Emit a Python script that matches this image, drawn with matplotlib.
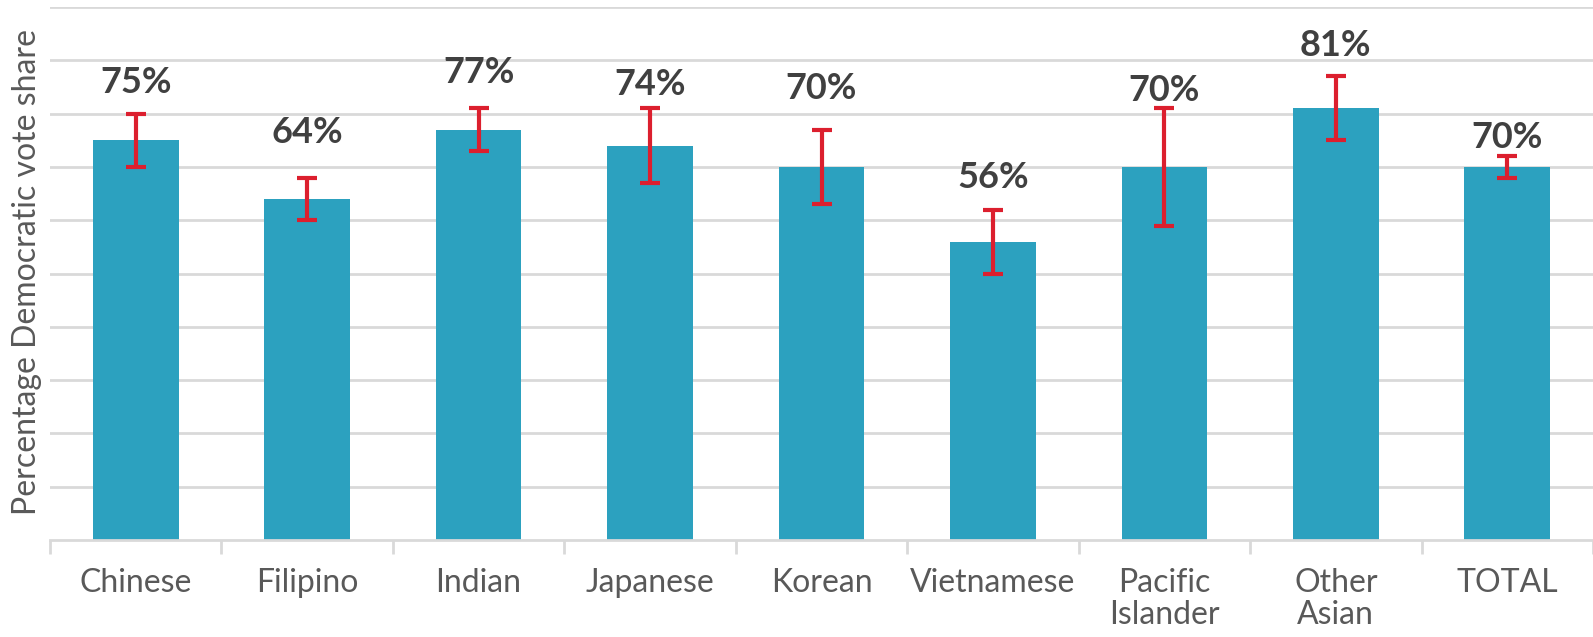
import matplotlib

matplotlib.use("Agg")
import matplotlib.pyplot as plt
import numpy as np

categories = ["Chinese", "Filipino", "Indian", "Japanese", "Korean",
              "Vietnamese", "Pacific\nIslander", "Other\nAsian", "TOTAL"]
share = [75, 64, 77, 74, 70, 56, 70, 81, 70]
err_low = [70, 60, 73, 67, 63, 50, 59, 75, 68]
err_high = [80, 68, 81, 81, 77, 62, 81, 87, 72]
label_y = [85.9, 76.5, 87.8, 85.4, 84.8, 68.1, 84.4, 92.7, 75.6]

BAR = "#2CA1BF"
RED = "#DC1F2E"
GRID = "#D9D9D9"

plt.rcParams["font.family"] = ["Lato", "DejaVu Sans"]

fig = plt.figure(figsize=(15.93, 6.37), dpi=100)
ax = fig.add_axes([50 / 1593, 1 - 540 / 637, 1 - 50 / 1593, 533 / 637])

x = np.arange(len(categories))
ax.bar(x, share, width=0.5, color=BAR, zorder=2)

share_a = np.array(share)
yerr = [share_a - np.array(err_low), np.array(err_high) - share_a]
ax.errorbar(x, share, yerr=yerr, fmt="none", ecolor=RED, elinewidth=3,
            capsize=7, capthick=3, zorder=3)

for xi, v, ly in zip(x, share, label_y):
    ax.text(xi, ly, f"{v}%", ha="center", va="center", fontsize=26,
            fontweight="bold", color="#404040")

ax.set_xlim(-0.5, len(categories) - 0.5)
ax.set_ylim(0, 100)
ax.set_yticks(np.arange(10, 101, 10))
ax.yaxis.grid(True, color=GRID, lw=2)
ax.set_axisbelow(True)
ax.tick_params(axis="y", left=False, labelleft=False)

ax.set_xticks(x)
ax.set_xticklabels(categories, fontsize=23, color="#595959", linespacing=1.1)
ax.tick_params(axis="x", length=0, pad=20)
ax.set_xticks(np.arange(-0.5, len(categories)), minor=True)
ax.tick_params(axis="x", which="minor", length=10, width=2, color=GRID)

for s in ("top", "right", "left"):
    ax.spines[s].set_visible(False)
ax.spines["bottom"].set_color(GRID)
ax.spines["bottom"].set_linewidth(2)

fig.text(27 / 1593, 1 - 272 / 637, "Percentage Democratic vote share",
         rotation=90, ha="center", va="center", fontsize=23, color="#595959")

fig.savefig("out.png", dpi=100)
